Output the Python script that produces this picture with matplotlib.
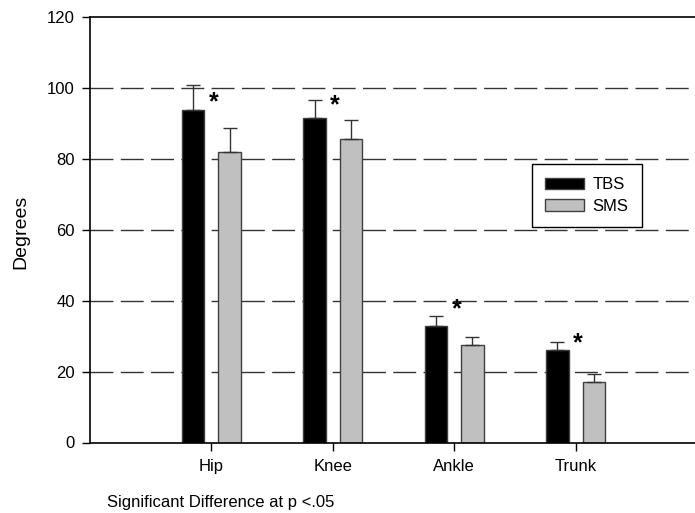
import matplotlib
matplotlib.use("Agg")
import matplotlib.pyplot as plt
import numpy as np

plt.rcParams['font.family'] = ['Liberation Sans', 'DejaVu Sans']

categories = ['Hip', 'Knee', 'Ankle', 'Trunk']
tbs_mean = [93.8, 91.4, 32.9, 26.2]
tbs_err = [7.0, 5.2, 2.9, 2.1]
sms_mean = [81.8, 85.6, 27.4, 17.1]
sms_err = [7.0, 5.3, 2.3, 2.3]
star_y = [96.0, 95.0, 37.7, 28.0]
yticks = [0, 20, 40, 60, 80, 100, 120]

W, H = 695, 513
fig = plt.figure(figsize=(W / 100, H / 100), dpi=100)
ax_l, ax_r, ax_t, ax_b = 90, 697, 17, 442.5
ax = fig.add_axes([ax_l / W, 1 - ax_b / H, (ax_r - ax_l) / W, (ax_b - ax_t) / H])

x = np.arange(1, len(categories) + 1)
off = 0.15
bw = 0.185
fs = 12

for yv in yticks[1:-1]:
    ax.axhline(yv, color='#333333', lw=1.0, ls=(0, (16.5, 5.3)), zorder=1)

ax.bar(x - off, tbs_mean, bw, color='black', edgecolor='#404040', lw=1.0, zorder=2, label='TBS')
ax.bar(x + off, sms_mean, bw, color='#c0c0c0', edgecolor='#404040', lw=1.0, zorder=2, label='SMS')
ax.errorbar(x - off, tbs_mean, yerr=[np.zeros(4), tbs_err], fmt='none', ecolor='#333333',
            elinewidth=1.0, capsize=4.7, capthick=1.0, zorder=3)
ax.errorbar(x + off, sms_mean, yerr=[np.zeros(4), sms_err], fmt='none', ecolor='#333333',
            elinewidth=1.0, capsize=4.7, capthick=1.0, zorder=3)

for xi, sy in zip(x, star_y):
    ax.text(xi + 0.02, sy, '*', fontsize=18, fontweight='bold', ha='center', va='center', zorder=4)

ax.set_xlim(0, 5)
ax.set_ylim(0, 120)
ax.set_yticks(yticks)
ax.set_xticks(x)
ax.set_xticklabels(categories)
ax.tick_params(axis='both', direction='out', length=6, width=1.0, labelsize=fs, colors='black')
ax.tick_params(axis='x', pad=6)
ax.tick_params(axis='y', pad=5)
for s in ['left', 'bottom', 'top']:
    ax.spines[s].set_linewidth(1.2)
    ax.spines[s].set_color('black')
ax.spines['right'].set_visible(False)

leg = ax.legend(loc='upper left', bbox_to_anchor=((532 - ax_l) / (ax_r - ax_l), (ax_b - 164) / (ax_b - ax_t)),
                fontsize=fs, frameon=True, fancybox=False, edgecolor='black', framealpha=1,
                handlelength=2.34, handleheight=0.72, handletextpad=0.5, borderpad=0.8,
                labelspacing=0.38, borderaxespad=0)
leg.get_frame().set_linewidth(1.0)

fig.text(21 / W, 1 - 232 / H, 'Degrees', rotation=90, ha='center', va='center', fontsize=14)
fig.text(107 / W, 1 - 502 / H, 'Significant Difference at p <.05', ha='left', va='center', fontsize=12)

fig.savefig('out.png', dpi=100)
